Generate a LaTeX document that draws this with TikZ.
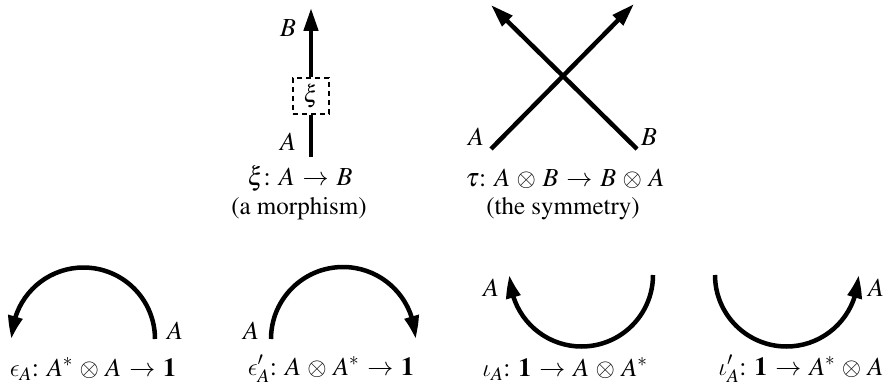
\documentclass[tikz,border=0pt]{standalone}
\usepackage[T1]{fontenc}
\usepackage{mathptmx}
\usetikzlibrary{arrows.meta,bending}
\DeclareSymbolFont{cmlet}{OML}{cmm}{m}{it}
\DeclareSymbolFont{cmsyf}{OMS}{cmsy}{m}{n}
\DeclareMathSymbol{\lunateeps}{\mathord}{cmlet}{"0F}
\DeclareMathSymbol{\itiota}{\mathord}{cmlet}{"13}
\DeclareMathSymbol{\otimesx}{\mathbin}{cmsyf}{"0A}
\medmuskip=4.5mu plus 2mu minus 4mu
\thickmuskip=5.5mu plus 5mu
\begin{document}
\begin{tikzpicture}[x=1pt,y=-1pt,
  wire/.style={line width=4.5pt},
  arr/.style={-{Triangle[length=23pt,width=14pt]}},
  arcarr/.style={-{Triangle[length=23pt,width=14pt,bend]}},
  lbl/.style={font=\fontsize{26}{30}\selectfont, inner sep=0pt},
  txt/.style={font=\fontsize{25}{30}\selectfont, inner sep=0pt},
  boxst/.style={draw, dashed, dash pattern=on 5pt off 4pt, line width=1.6pt, minimum width=36pt, minimum height=36pt, inner sep=0pt, font=\fontsize{24}{28}\selectfont}]
\useasboundingbox (0,0) rectangle (893,385);
% morphism
\coordinate (m0) at (311,157);
\node[boxst] (xi) at (311,96) {$\xi$};
\coordinate (m1) at (311,8);
\draw[wire] (m0) -- (xi.south);
\draw[wire,arr] (xi.north) -- (m1);
\node[lbl] (mB) at (288,28) {$B$};
\node[lbl] (mA) at (288,142) {$A$};
\node[lbl] (c1) at (300,179) {$\xi{:}\;A\to B$};
\node[txt] (c2) at (299,209) {(a morphism)};
% symmetry
\coordinate (xa) at (491,149);
\coordinate (xb) at (637,149);
\coordinate (ta) at (634,4);
\coordinate (tb) at (491,5);
\draw[wire,arr] (xa) -- (ta);
\draw[wire,arr] (xb) -- (tb);
\node[lbl] (sA) at (476,137) {$A$};
\node[lbl] (sB) at (649,137) {$B$};
\node[lbl] (c3) at (565,179) {$\tau{:}\;A\otimesx B\to B\otimesx A$};
\node[txt] (c4) at (563,209) {(the symmetry)};
% epsilon
\coordinate (e1) at (155,339);
\draw[wire,arcarr] (e1) arc[start angle=0,end angle=180,radius=71.5pt];
\node[lbl] (e1A) at (175,331) {$A$};
\node[lbl] (c5) at (93,369) {$\lunateeps_A{:}\;A^*\otimesx A\to\mathbf{1}$};
% epsilon prime
\coordinate (e2) at (271,339);
\draw[wire,arcarr] (e2) arc[start angle=180,end angle=0,radius=72pt];
\node[lbl] (e2A) at (251,331) {$A$};
\node[lbl] (c6) at (331,369) {$\lunateeps'_A{:}\;A\otimesx A^*\to\mathbf{1}$};
% iota
\coordinate (i1) at (653,275);
\draw[wire,arcarr] (i1) arc[start angle=0,end angle=-180,radius=71.5pt];
\node[lbl] (i1A) at (491,288) {$A$};
\node[lbl] (c7) at (565,369) {$\itiota_A{:}\;\mathbf{1}\to A\otimesx A^*$};
% iota prime
\coordinate (i2) at (715,275);
\draw[wire,arcarr] (i2) arc[start angle=180,end angle=360,radius=71.5pt];
\node[lbl] (i2A) at (876,288) {$A$};
\node[lbl] (c8) at (801,369) {$\itiota'_A{:}\;\mathbf{1}\to A^*\otimesx A$};
\end{tikzpicture}
\end{document}
